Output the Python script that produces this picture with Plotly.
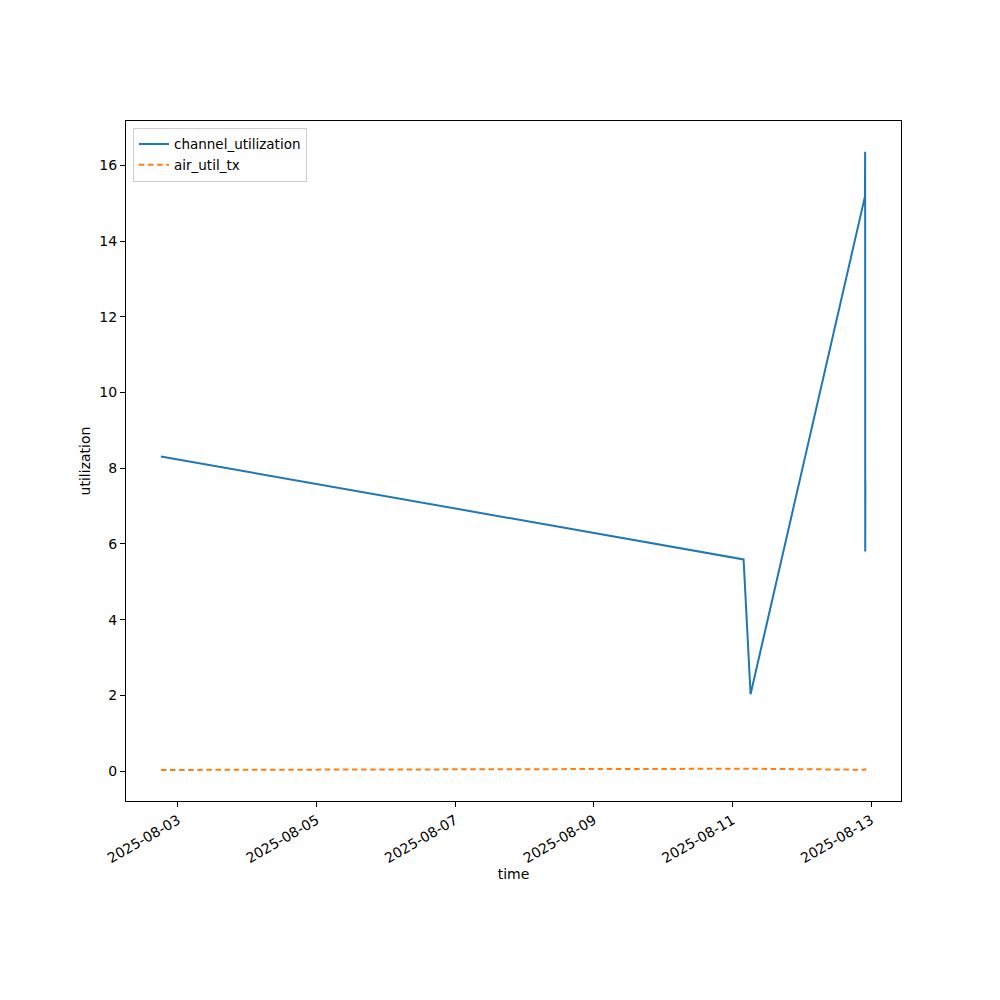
import plotly.graph_objects as go

times = ["2025-08-02 18:05", "2025-08-11 03:50", "2025-08-11 06:15",
         "2025-08-12 21:50", "2025-08-12 21:55", "2025-08-12 21:57",
         "2025-08-12 21:59", "2025-08-12 22:00"]
channel_utilization = [8.31, 5.59, 2.03, 15.17, 16.36, 5.8, 12.4, 7.65]
air_util_tx = [0.03, 0.065, 0.062, 0.035, 0.04, 0.03, 0.09, 0.05]
x_ticks = ["2025-08-03", "2025-08-05", "2025-08-07", "2025-08-09", "2025-08-11", "2025-08-13"]
y_ticks = [0, 2, 4, 6, 8, 10, 12, 14, 16]

FONT = "DejaVu Sans"
fig = go.Figure()
fig.add_trace(go.Scatter(x=times, y=channel_utilization, mode="lines",
                         name="channel_utilization",
                         line=dict(color="#1f77b4", width=2)))
fig.add_trace(go.Scatter(x=times, y=air_util_tx, mode="lines",
                         name="air_util_tx",
                         line=dict(color="#ff7f0e", width=2, dash="5.5px,3.6px")))

fig.update_layout(
    width=1000, height=1000,
    margin=dict(l=118, r=107, t=113, b=207),
    paper_bgcolor="white", plot_bgcolor="white",
    font=dict(family=FONT, size=14, color="black"),
    showlegend=True,
    legend=dict(x=0.009, y=0.99, xanchor="left", yanchor="top",
                bgcolor="white", bordercolor="#cccccc", borderwidth=1,
                itemwidth=30, tracegroupgap=0,
                font=dict(family=FONT, size=13.5)),
    xaxis=dict(type="date", range=["2025-08-02 06:00", "2025-08-13 10:20"],
               tickvals=x_ticks, ticktext=x_ticks, tickangle=-30,
               showgrid=False, zeroline=False,
               showline=True, linecolor="black", linewidth=1, mirror=True,
               ticks="outside", ticklen=5, tickcolor="black",
               title=dict(text="time", font=dict(size=14), standoff=3)),
    yaxis=dict(range=[-0.79, 17.17], tickvals=y_ticks,
               showgrid=False, zeroline=False,
               showline=True, linecolor="black", linewidth=1, mirror=True,
               ticks="outside", ticklen=5, tickcolor="black",
               title=dict(text="utilization", font=dict(size=14), standoff=5)),
)
fig.write_html("out.html")
